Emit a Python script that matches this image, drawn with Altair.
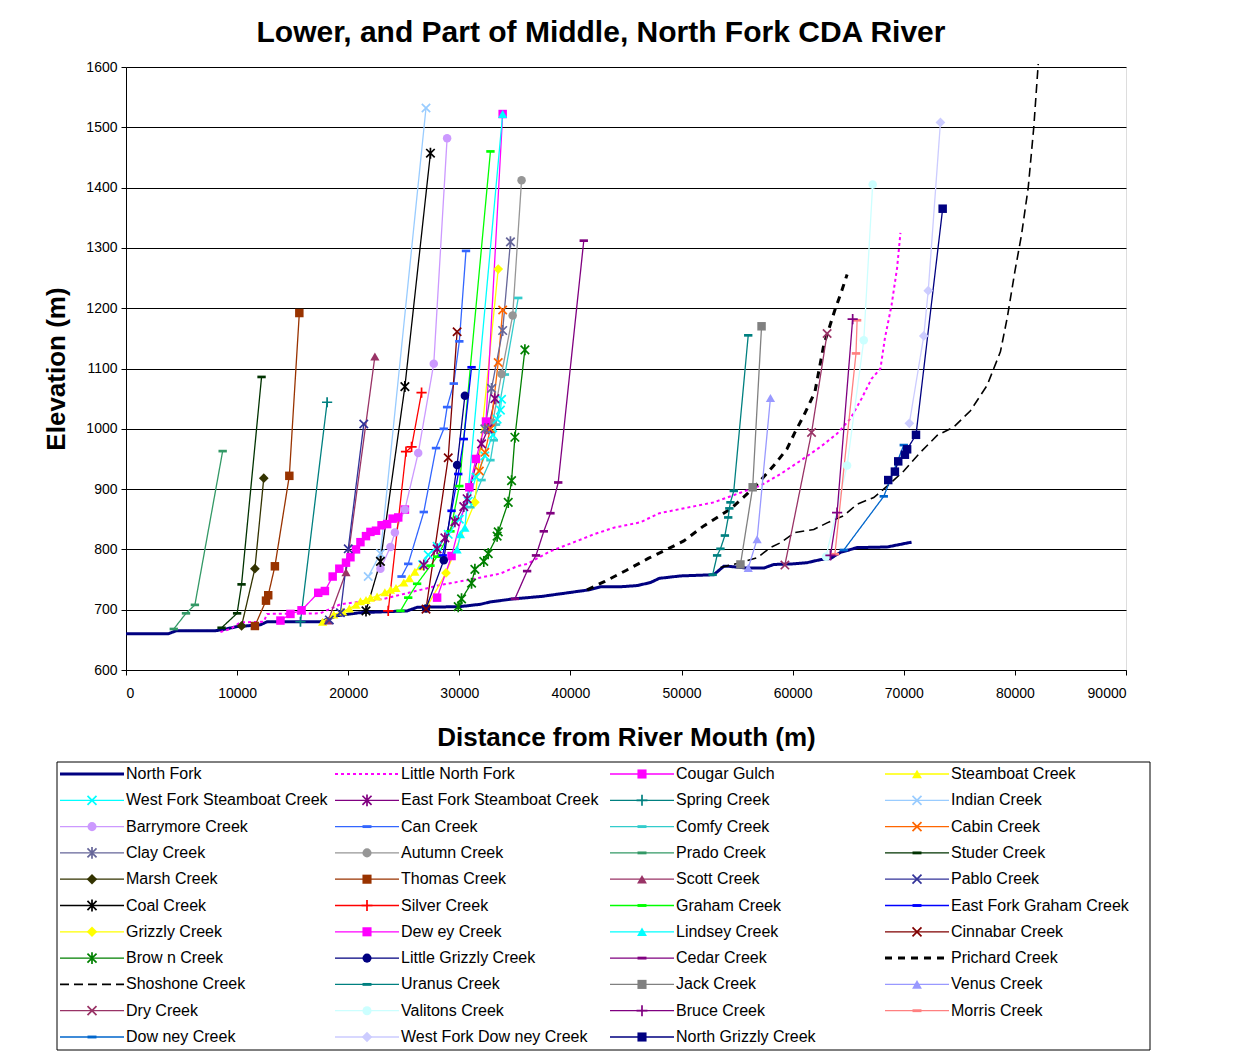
import altair as alt
import pandas as pd

# ---------------- data (distance m, elevation m) ----------------
north_fork = [(0,660),(3800,660),(4500,665),(8000,665),(9000,668),(10000,672),(12100,675),(12700,680),(17500,680),(19000,690),(21000,695),(25300,698),(26200,704),(30000,705),(31900,709),(32800,713),(34900,718),(37400,722),(41700,733),(42700,738),(44500,738),(46000,740),(47200,745),(48000,752),(49900,756),(52900,758),(53800,772),(54200,772),(55900,769),(57400,769),(58300,775),(60000,776),(61300,778),(62500,783),(63400,785),(64300,795),(65800,803),(68500,804),(70700,812)]
little_north_fork = [(8500,663),(9400,668),(10300,679),(12400,680),(12700,693),(17500,694),(19300,709),(23200,718),(28300,741),(31300,751),(33700,760),(35200,772),(36100,776),(38200,797),(40600,814),(42100,825),(43900,836),(46300,845),(48000,860),(49900,867),(52900,878),(55300,894),(57100,906),(58900,925),(60700,947),(62500,970),(64000,992),(65200,1017),(66200,1050),(67100,1083),(67900,1100),(68300,1150),(68900,1205),(69400,1267),(69700,1325)]
cougar_gulch = [(13900,682),(14800,693),(15800,699),(17300,728),(17900,731),(18600,755),(19200,768),(19800,778),(20200,787),(20700,800),(21100,812),(21600,822),(22000,829),(22500,831),(23000,840),(23500,842),(24000,851),(24500,853),(25100,866)]
steamboat = [(17700,680),(18700,692),(19500,697),(20100,702),(20700,708),(21100,714),(21600,716),(22000,720),(22600,722),(23300,729),(23800,733),(24300,736),(25000,745),(25500,752),(26000,763),(26500,772)]
wf_steamboat = [(26700,775),(27200,791),(28000,805),(29000,825),(30000,850),(30800,880),(31500,920),(32300,955),(33000,990),(33400,1016),(33700,1031),(33800,1049)]
ef_steamboat = [(26800,774),(28000,801),(28700,819),(29600,846),(30400,871),(30700,884),(32000,975),(32600,1000),(33200,1050)]
spring = [(15700,680),(18100,1044)]
indian = [(21800,755),(22900,793),(27000,1532)]
barrymore = [(22900,768),(23800,804),(24200,828),(25100,866),(26300,960),(27700,1108),(28900,1482)]
can = [(24800,755),(25400,776),(26800,862),(27900,968),(28600,1000),(28900,1036),(29500,1075),(30000,1145),(30600,1295)]
comfy = [(31000,870),(32000,915),(32800,948),(33100,981),(33300,1007),(34100,1090),(35300,1217)]
cabin = [(31800,930),(32300,961),(32800,1000),(33500,1110),(33900,1197)]
clay = [(32300,1000),(32900,1067),(33900,1163),(34600,1310)]
autumn = [(33000,1010),(33800,1091),(34800,1188),(35600,1412)]
prado = [(4300,668),(5400,694),(6200,708),(8700,963)]
studer = [(8600,670),(10000,694),(10400,742),(12200,1086)]
marsh = [(10400,673),(11600,768),(12400,918)]
thomas = [(11600,673),(12600,715),(12800,724),(13400,772),(14700,922),(15600,1192)]
scott = [(18200,682),(19800,762),(22400,1120)]
pablo = [(18300,683),(19300,695),(20000,801),(21400,1008)]
coal = [(21600,698),(22900,780),(25100,1070),(27400,1457)]
silver = [(23600,698),(25200,962),(25700,970),(26600,1060)]
graham = [(24700,698),(25400,720),(26200,743),(27400,773),(28000,788),(29200,830),(30000,905),(32800,1460)]
ef_graham = [(28500,790),(29300,864),(29900,925),(30400,983),(31100,1102)]
grizzly = [(27000,702),(28800,761),(31400,878),(33500,1265)]
dewey = [(28000,720),(29300,789),(30900,903),(31500,950),(32400,1012),(33900,1522)]
lindsey = [(29800,800),(30100,825),(30500,836),(33900,1522)]
cinnabar = [(27000,701),(29000,952),(29800,1161)]
brown = [(29900,705),(30200,718),(31100,744),(31400,767),(32200,780),(32600,793),(33400,822),(33500,829),(34400,878),(34700,914),(35000,986),(35900,1131)]
little_grizzly = [(27000,702),(28600,782),(29800,940),(30500,1055)]
cedar = [(35000,718),(36100,764),(36900,790),(37600,830),(38200,860),(38900,911),(41200,1312)]
prichard = [(41500,733),(43100,747),(45000,765),(47000,785),(49000,803),(50200,814),(52000,839),(53200,853),(54400,867),(55900,892),(57100,914),(58300,939),(59500,967),(60200,994),(61000,1022),(62000,1061),(62800,1139),(63800,1197),(64400,1228),(64900,1256)]
shoshone = [(53500,770),(55300,778),(56800,786),(58000,803),(58900,811),(60200,828),(61900,833),(63100,844),(64600,856),(65800,875),(67300,886),(68500,905),(70000,930),(71500,961),(73000,989),(74500,1003),(76000,1030),(77500,1072),(78700,1128),(79300,1183),(80000,1261),(80600,1322),(81200,1400),(81700,1500),(82100,1605)]
uranus = [(52800,758),(53200,790),(53500,801),(53900,823),(54200,853),(54300,868),(54400,878),(54700,897),(56000,1155)]
jack = [(55300,775),(56400,903),(57200,1170)]
venus = [(56000,769),(56800,817),(58000,1051)]
dry = [(59300,774),(61700,994),(63100,1158)]
valitons = [(63000,788),(64900,939),(66400,1147),(67200,1405)]
bruce = [(63400,790),(64000,861),(65400,1182)]
morris = [(63800,792),(65700,1125),(65800,1180)]
downey = [(64600,799),(68200,888),(70000,973)]
wf_downey = [(70500,1009),(71800,1154),(72200,1229),(73300,1508)]
north_grizzly = [(68600,915),(69200,929),(69500,946),(70100,957),(70300,966),(71100,990),(73500,1365)]

# legend order (row-major, 4 columns) with series data
series = [
    ("North Fork", north_fork), ("Little North Fork", little_north_fork), ("Cougar Gulch", cougar_gulch), ("Steamboat Creek", steamboat),
    ("West Fork Steamboat Creek", wf_steamboat), ("East Fork Steamboat Creek", ef_steamboat), ("Spring Creek", spring), ("Indian Creek", indian),
    ("Barrymore Creek", barrymore), ("Can Creek", can), ("Comfy Creek", comfy), ("Cabin Creek", cabin),
    ("Clay Creek", clay), ("Autumn Creek", autumn), ("Prado Creek", prado), ("Studer Creek", studer),
    ("Marsh Creek", marsh), ("Thomas Creek", thomas), ("Scott Creek", scott), ("Pablo Creek", pablo),
    ("Coal Creek", coal), ("Silver Creek", silver), ("Graham Creek", graham), ("East Fork Graham Creek", ef_graham),
    ("Grizzly Creek", grizzly), ("Dew ey Creek", dewey), ("Lindsey Creek", lindsey), ("Cinnabar Creek", cinnabar),
    ("Brow n Creek", brown), ("Little Grizzly Creek", little_grizzly), ("Cedar Creek", cedar), ("Prichard Creek", prichard),
    ("Shoshone Creek", shoshone), ("Uranus Creek", uranus), ("Jack Creek", jack), ("Venus Creek", venus),
    ("Dry Creek", dry), ("Valitons Creek", valitons), ("Bruce Creek", bruce), ("Morris Creek", morris),
    ("Dow ney Creek", downey), ("West Fork Dow ney Creek", wf_downey), ("North Grizzly Creek", north_grizzly),
]

# ---------------- styles ----------------
styles = {
    "North Fork": ("#000080", "solid", 3.0, None),
    "Little North Fork": ("#FF00FF", "dot", 2.0, None),
    "Cougar Gulch": ("#FF00FF", "solid", 1.3, "square"),
    "Steamboat Creek": ("#FFFF00", "solid", 1.3, "triangle"),
    "West Fork Steamboat Creek": ("#00FFFF", "solid", 1.3, "x"),
    "East Fork Steamboat Creek": ("#800080", "solid", 1.3, "star"),
    "Spring Creek": ("#008080", "solid", 1.3, "plus"),
    "Indian Creek": ("#99CCFF", "solid", 1.3, "x"),
    "Barrymore Creek": ("#CC99FF", "solid", 1.3, "circle"),
    "Can Creek": ("#3366FF", "solid", 1.3, "dash"),
    "Comfy Creek": ("#33CCCC", "solid", 1.3, "dash"),
    "Cabin Creek": ("#FF6600", "solid", 1.3, "x"),
    "Clay Creek": ("#666699", "solid", 1.3, "star"),
    "Autumn Creek": ("#969696", "solid", 1.3, "circle"),
    "Prado Creek": ("#339966", "solid", 1.3, "dash"),
    "Studer Creek": ("#003300", "solid", 1.3, "dash"),
    "Marsh Creek": ("#333300", "solid", 1.3, "diamond"),
    "Thomas Creek": ("#993300", "solid", 1.3, "square"),
    "Scott Creek": ("#993366", "solid", 1.3, "triangle"),
    "Pablo Creek": ("#333399", "solid", 1.3, "x"),
    "Coal Creek": ("#000000", "solid", 1.3, "star"),
    "Silver Creek": ("#FF0000", "solid", 1.3, "plus"),
    "Graham Creek": ("#00FF00", "solid", 1.3, "dash"),
    "East Fork Graham Creek": ("#0000FF", "solid", 1.3, "dash"),
    "Grizzly Creek": ("#FFFF00", "solid", 1.3, "diamond"),
    "Dew ey Creek": ("#FF00FF", "solid", 1.3, "square"),
    "Lindsey Creek": ("#00FFFF", "solid", 1.3, "triangle"),
    "Cinnabar Creek": ("#800000", "solid", 1.3, "x"),
    "Brow n Creek": ("#008000", "solid", 1.3, "star"),
    "Little Grizzly Creek": ("#000080", "solid", 1.3, "circle"),
    "Cedar Creek": ("#800080", "solid", 1.3, "dash"),
    "Prichard Creek": ("#000000", "bigdash", 3.0, None),
    "Shoshone Creek": ("#000000", "longdash", 1.6, None),
    "Uranus Creek": ("#008080", "solid", 1.3, "dash"),
    "Jack Creek": ("#808080", "solid", 1.3, "square"),
    "Venus Creek": ("#9999FF", "solid", 1.3, "triangle"),
    "Dry Creek": ("#993366", "solid", 1.3, "x"),
    "Valitons Creek": ("#CCFFFF", "solid", 1.3, "circle"),
    "Bruce Creek": ("#800080", "solid", 1.3, "plus"),
    "Morris Creek": ("#FF8080", "solid", 1.3, "dash"),
    "Dow ney Creek": ("#0066CC", "solid", 1.3, "dash"),
    "West Fork Dow ney Creek": ("#CCCCFF", "solid", 1.3, "diamond"),
    "North Grizzly Creek": ("#000080", "solid", 1.3, "square"),
}

shape_paths = {
    "square": "square",
    "circle": "circle",
    "diamond": "diamond",
    "triangle": "triangle-up",
    "x": "M-1,-1L1,1M-1,1L1,-1",
    "star": "M-1,-1L1,1M-1,1L1,-1M0,-1.3L0,1.3",
    "plus": "M-1.2,0L1.2,0M0,-1.2L0,1.2",
    "dash": "M-1,-0.32L1,-0.32L1,0.32L-1,0.32Z",
}
shape_sizes = {"square": 72, "circle": 72, "diamond": 95, "triangle": 85,
               "x": 70, "star": 72, "plus": 72, "dash": 70}
stroked_shapes = {"x", "star", "plus"}

dash_domain = ["solid", "dot", "bigdash", "longdash"]
dash_range = [[1, 0], [3, 3], [7, 6], [9, 5]]

FONT = "Liberation Sans"

rows = []
for name, pts in series:
    color, dash, w, marker = styles[name]
    for i, (xv, yv) in enumerate(pts):
        rows.append({
            "name": name, "i": i, "x": xv, "y": yv, "color": color, "dash": dash, "w": w,
            "marker": marker or "",
            "shape": shape_paths.get(marker, ""), "size": shape_sizes.get(marker, 0),
        })
df = pd.DataFrame(rows)
df_fill = df[(df["marker"] != "") & (~df["marker"].isin(stroked_shapes))]
df_stroke = df[df["marker"].isin(stroked_shapes)]

# ---------------- legend table (layout in pixels relative to plot origin) ----------------
PLOT_W, PLOT_H = 1000, 603
leg_rows = []
for k, (name, _) in enumerate(series):
    color, dash, w, marker = styles[name]
    r, c = divmod(k, 4)
    x0 = -66 + c * 275
    leg_rows.append({
        "name": name, "color": color, "dash": dash, "w": w, "marker": marker or "",
        "shape": shape_paths.get(marker, ""), "size": shape_sizes.get(marker, 0) * 1.15,
        "lx0": x0, "lx1": x0 + 64, "lxm": x0 + 32, "ltx": x0 + 66, "ly": 707 + r * 26.3,
    })
leg = pd.DataFrame(leg_rows)
leg_fill = leg[(leg["marker"] != "") & (~leg["marker"].isin(stroked_shapes))]
leg_stroke = leg[leg["marker"].isin(stroked_shapes)]
box = pd.DataFrame([{"bx0": -69, "bx1": 1024, "by0": 695, "by1": 983}])

xscale = alt.Scale(domain=[0, 90000], nice=False, zero=False)
yscale = alt.Scale(domain=[600, 1600], nice=False, zero=False)
xaxis = alt.Axis(values=list(range(0, 90001, 10000)), format="d", grid=False,
                 title="Distance from River Mouth (m)", titleFontSize=26, titleFont=FONT,
                 titleFontWeight="bold", labelFontSize=14, labelFont=FONT, tickSize=5,
                 labelPadding=11, titlePadding=24, domainColor="black", tickColor="black",
                 labelColor="black", titleColor="black")
yaxis = alt.Axis(values=list(range(600, 1601, 100)), format="d", grid=True, gridColor="black",
                 gridWidth=1, title="Elevation (m)", titleFontSize=26, titleFont=FONT,
                 titleFontWeight="bold", labelFontSize=14, labelFont=FONT, tickSize=5,
                 labelPadding=4, titlePadding=16, domainColor="black", tickColor="black",
                 labelColor="black", titleColor="black")

dash_scale = alt.Scale(domain=dash_domain, range=dash_range)

lines = alt.Chart(df).mark_line(clip=False).encode(
    x=alt.X("x:Q", scale=xscale, axis=xaxis),
    y=alt.Y("y:Q", scale=yscale, axis=yaxis),
    detail="name:N",
    color=alt.Color("color:N", scale=None),
    strokeDash=alt.StrokeDash("dash:N", scale=dash_scale, legend=None),
    strokeWidth=alt.StrokeWidth("w:Q", scale=None),
    order="i:Q",
)
pts_fill = alt.Chart(df_fill).mark_point(filled=True, opacity=1).encode(
    x=alt.X("x:Q", scale=xscale), y=alt.Y("y:Q", scale=yscale),
    color=alt.Color("color:N", scale=None),
    shape=alt.Shape("shape:N", scale=None),
    size=alt.Size("size:Q", scale=None),
)
pts_stroke = alt.Chart(df_stroke).mark_point(filled=False, opacity=1, strokeWidth=1.7).encode(
    x=alt.X("x:Q", scale=xscale), y=alt.Y("y:Q", scale=yscale),
    color=alt.Color("color:N", scale=None),
    shape=alt.Shape("shape:N", scale=None),
    size=alt.Size("size:Q", scale=None),
)

leg_box = alt.Chart(box).mark_rect(fill="white", fillOpacity=0, stroke="black", strokeWidth=1).encode(
    x=alt.X("bx0:Q", scale=None), x2="bx1:Q", y=alt.Y("by0:Q", scale=None), y2="by1:Q")
leg_lines = alt.Chart(leg).mark_rule().encode(
    x=alt.X("lx0:Q", scale=None), x2="lx1:Q", y=alt.Y("ly:Q", scale=None),
    color=alt.Color("color:N", scale=None),
    strokeDash=alt.StrokeDash("dash:N", scale=dash_scale, legend=None),
    strokeWidth=alt.StrokeWidth("w:Q", scale=None),
)
leg_pfill = alt.Chart(leg_fill).mark_point(filled=True, opacity=1).encode(
    x=alt.X("lxm:Q", scale=None), y=alt.Y("ly:Q", scale=None),
    color=alt.Color("color:N", scale=None), shape=alt.Shape("shape:N", scale=None),
    size=alt.Size("size:Q", scale=None))
leg_pstroke = alt.Chart(leg_stroke).mark_point(filled=False, opacity=1, strokeWidth=1.7).encode(
    x=alt.X("lxm:Q", scale=None), y=alt.Y("ly:Q", scale=None),
    color=alt.Color("color:N", scale=None), shape=alt.Shape("shape:N", scale=None),
    size=alt.Size("size:Q", scale=None))
leg_text = alt.Chart(leg).mark_text(align="left", baseline="middle", fontSize=16, font=FONT,
                                    color="black").encode(
    x=alt.X("ltx:Q", scale=None), y=alt.Y("ly:Q", scale=None), text="name:N")

chart = alt.layer(lines, pts_fill, pts_stroke, leg_box, leg_lines, leg_pfill, leg_pstroke, leg_text).properties(
    width=PLOT_W, height=PLOT_H,
    title=alt.TitleParams("Lower, and Part of Middle, North Fork CDA River", fontSize=30, font=FONT,
                          fontWeight="bold", anchor="middle", dx=-25, offset=12, color="black"),
    padding={"left": 35, "top": 10, "right": 5, "bottom": 5},
).configure_view(stroke="#808080", strokeWidth=1).configure(background="white")

chart.save("out.html", embed_options={"renderer": "svg", "actions": False})
